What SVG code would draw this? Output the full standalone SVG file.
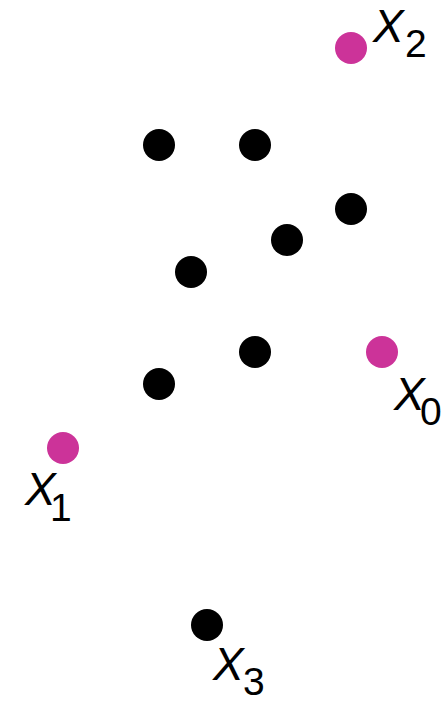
<svg xmlns="http://www.w3.org/2000/svg" width="447" height="701" viewBox="0 0 447 701">
<style>
.p{fill:#000}
.m{fill:#cc3399}
.lbl{font-family:"Liberation Sans","DejaVu Sans",sans-serif;font-size:46px;font-style:italic;fill:#000}
.sub{font-size:39px;font-style:normal}
</style>
<rect width="447" height="701" fill="#fff"/>
<g id="connectors"/>
<g id="p1"><circle class="p" cx="159" cy="145" r="16"/></g>
<g id="p2"><circle class="p" cx="255" cy="145" r="16"/></g>
<g id="p3"><circle class="p" cx="351" cy="209" r="16"/></g>
<g id="p4"><circle class="p" cx="287" cy="240" r="16"/></g>
<g id="p5"><circle class="p" cx="191" cy="272" r="16"/></g>
<g id="p6"><circle class="p" cx="255" cy="352" r="16"/></g>
<g id="p7"><circle class="p" cx="159" cy="384" r="16"/></g>
<g id="x3"><circle class="p" cx="207" cy="625" r="16"/>
<text class="lbl" x="213" y="680">X<tspan class="sub" x="243" y="695">3</tspan></text></g>
<g id="x2"><circle class="m" cx="351" cy="48" r="16"/>
<text class="lbl" x="373" y="42">X<tspan class="sub" x="405" y="57">2</tspan></text></g>
<g id="x0"><circle class="m" cx="382" cy="352" r="16"/>
<text class="lbl" x="394" y="410">X<tspan class="sub" x="420" y="425">0</tspan></text></g>
<g id="x1"><circle class="m" cx="63" cy="448" r="16"/>
<text class="lbl" x="25" y="505">X<tspan class="sub" x="50" y="521">1</tspan></text></g>
</svg>
